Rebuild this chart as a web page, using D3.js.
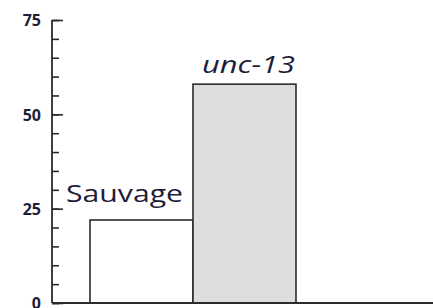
<!DOCTYPE html>
<html lang="fr">
<head>
<meta charset="UTF-8">
<title>Sauvage vs unc-13</title>
<script src="https://d3js.org/d3.v7.min.js"></script>
<style>
  html, body { margin: 0; padding: 0; background: #fff; }
  svg { display: block; }
</style>
</head>
<body>
<div id="chart"></div>
<script>
// data
const categories = ["Sauvage", "unc-13"];
const values = [22, 58];
const fills = ["#ffffff", "#dddddd"];
const italics = [false, true];
const majorTicks = [0, 25, 50, 75];
const minorTicks = d3.range(0, 76, 5);

const W = 433, H = 308;
const svg = d3.select("#chart").append("svg")
    .attr("width", W)
    .attr("height", H);

const axisX = 52, axisY = 303;

const y = d3.scaleLinear().domain([0, 75]).range([axisY, 20]);
const x = d3.scaleBand().domain(categories).range([90, 296]).padding(0);

const ink = "#1d1d3a";
const lineCol = "#2b2b2b";

// bars
svg.selectAll("rect.bar")
    .data(categories)
    .enter().append("rect")
    .attr("class", "bar")
    .attr("x", d => x(d))
    .attr("y", (d, i) => y(values[i]))
    .attr("width", x.bandwidth())
    .attr("height", (d, i) => axisY - y(values[i]))
    .attr("fill", (d, i) => fills[i])
    .attr("stroke", lineCol)
    .attr("stroke-width", 1.6);

// y axis: minor ticks, then major ticks with labels, ticks pointing inward
const yMinor = svg.append("g")
    .attr("transform", `translate(${axisX},0)`)
    .call(d3.axisRight(y).tickValues(minorTicks).tickSize(7).tickFormat(""));
yMinor.select(".domain").remove();
yMinor.selectAll("line").attr("stroke", lineCol).attr("stroke-width", 1.6);

const yMajor = svg.append("g")
    .attr("transform", `translate(${axisX},0)`)
    .call(d3.axisRight(y).tickValues(majorTicks).tickSize(11).tickFormat(d3.format("d")));
yMajor.select(".domain").remove();
yMajor.selectAll("line").attr("stroke", lineCol).attr("stroke-width", 1.6);
yMajor.selectAll("text")
    .attr("x", -11)
    .attr("dy", "0.36em")
    .attr("text-anchor", "end")
    .attr("fill", ink)
    .style("font-family", "'Open Sans', 'DejaVu Sans', sans-serif")
    .style("font-weight", "bold")
    .style("font-size", "16px");

// axis lines
svg.append("line")
    .attr("x1", axisX).attr("x2", axisX)
    .attr("y1", y(75)).attr("y2", axisY)
    .attr("stroke", lineCol).attr("stroke-width", 1.8);
svg.append("line")
    .attr("x1", axisX).attr("x2", W)
    .attr("y1", axisY).attr("y2", axisY)
    .attr("stroke", lineCol).attr("stroke-width", 1.8);

// category labels above bars (Sauvage sits a bit left of its bar)
const labelDx = [-17, 4];
const labelDy = [18, 11];
const labelW = [117, 93];
svg.selectAll("text.cat")
    .data(categories)
    .enter().append("text")
    .attr("class", "cat")
    .attr("x", (d, i) => x(d) + x.bandwidth() / 2 + labelDx[i])
    .attr("y", (d, i) => y(values[i]) - labelDy[i])
    .attr("text-anchor", "middle")
    .attr("textLength", (d, i) => labelW[i])
    .attr("lengthAdjust", "spacingAndGlyphs")
    .attr("fill", ink)
    .style("font-family", "'Open Sans', 'DejaVu Sans', sans-serif")
    .style("font-size", "24px")
    .style("font-style", (d, i) => italics[i] ? "italic" : "normal")
    .text(d => d);
</script>
</body>
</html>
